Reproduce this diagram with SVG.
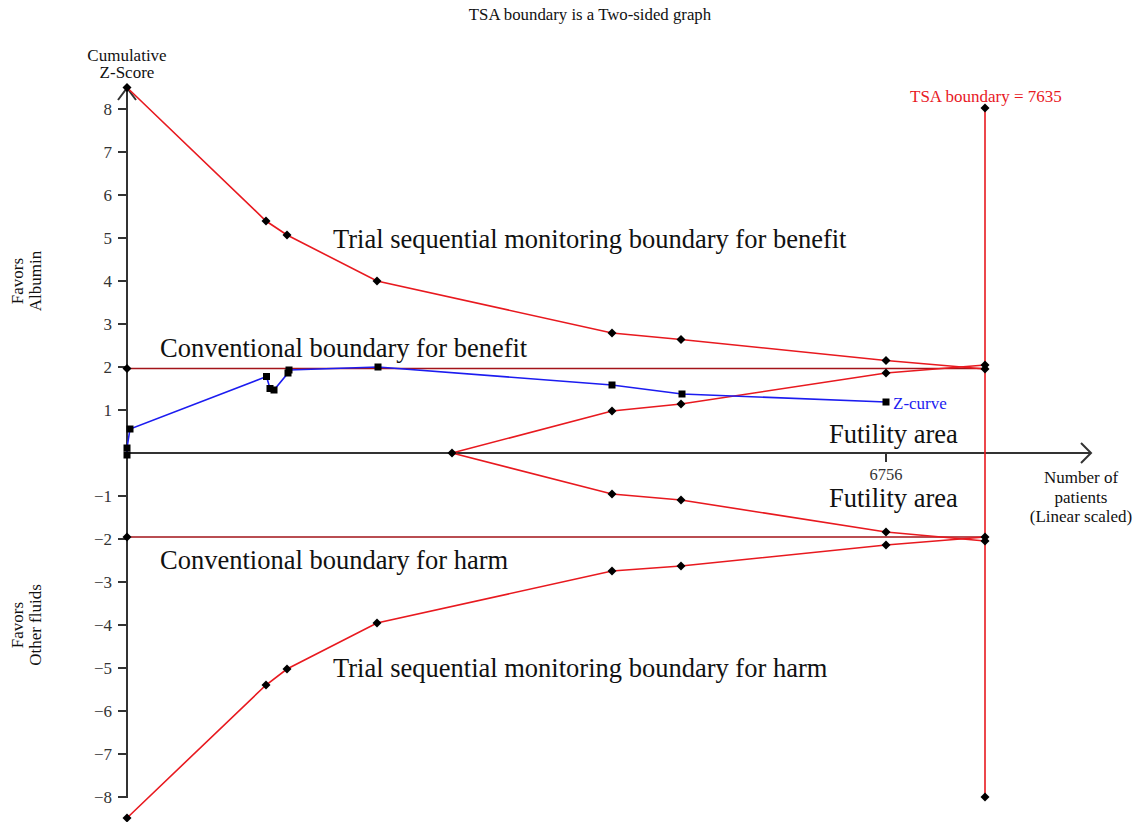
<svg xmlns="http://www.w3.org/2000/svg" width="1135" height="822" viewBox="0 0 1135 822">
<style>
text{font-family:"Liberation Serif","Times New Roman",serif;fill:#111}
.big{font-size:26.5px}
.tick{font-size:17px;text-anchor:end;fill:#333}
.lab{font-size:17px}
.red{fill:none;stroke:#e8191f;stroke-width:1.6}
.conv{fill:none;stroke:#a3141a;stroke-width:1.6}
.blue{fill:none;stroke:#1c1cf0;stroke-width:1.6}
.axis{fill:none;stroke:#333;stroke-width:2}
</style>
<defs>
<path id="dm" d="M0,-4.5L4.5,0L0,4.5L-4.5,0Z" fill="#000"/>
<rect id="sq" x="-3.5" y="-3.5" width="7" height="7" fill="#000"/>
</defs>
<rect width="1135" height="822" fill="#fff"/>
<text x="590" y="20" text-anchor="middle" style="font-size:16.8px">TSA boundary is a Two-sided graph</text>

<g id="axes">
<path class="axis" d="M127,88V798M118,100L127,88L136,100"/>
<path class="axis" d="M127,453H1091M1081,443L1091,453L1081,463"/>
<path class="axis" d="M118,109H127M118,152H127M118,195H127M118,238H127M118,281H127M118,324H127M118,367H127M118,410H127M118,496H127M118,539H127M118,582H127M118,625H127M118,668H127M118,711H127M118,754H127M118,797H127M886,453V462"/>
<text class="tick" x="112" y="115">8</text>
<text class="tick" x="112" y="158">7</text>
<text class="tick" x="112" y="201">6</text>
<text class="tick" x="112" y="244">5</text>
<text class="tick" x="112" y="287">4</text>
<text class="tick" x="112" y="330">3</text>
<text class="tick" x="112" y="373">2</text>
<text class="tick" x="112" y="416">1</text>
<text class="tick" x="112" y="502">−1</text>
<text class="tick" x="112" y="545">−2</text>
<text class="tick" x="112" y="588">−3</text>
<text class="tick" x="112" y="631">−4</text>
<text class="tick" x="112" y="674">−5</text>
<text class="tick" x="112" y="717">−6</text>
<text class="tick" x="112" y="760">−7</text>
<text class="tick" x="112" y="803">−8</text>
<text x="886" y="480" text-anchor="middle" style="font-size:16.5px;fill:#333">6756</text>
<text x="127" y="61" text-anchor="middle" class="lab">Cumulative</text>
<text x="127" y="78" text-anchor="middle" class="lab">Z-Score</text>
<text class="lab" text-anchor="middle" transform="translate(23,281) rotate(-90)">Favors</text>
<text class="lab" text-anchor="middle" transform="translate(41,281) rotate(-90)">Albumin</text>
<text class="lab" text-anchor="middle" transform="translate(23,625) rotate(-90)">Favors</text>
<text class="lab" text-anchor="middle" transform="translate(41,625) rotate(-90)">Other fluids</text>
<text x="1081" y="483" text-anchor="middle" class="lab">Number of</text>
<text x="1081" y="503" text-anchor="middle" class="lab">patients</text>
<text x="1081" y="522" text-anchor="middle" class="lab">(Linear scaled)</text>
</g>

<g id="connectors">
<path class="conv" d="M127,368.5H985M127,537H985"/>
<path class="red" d="M985,108V797"/>
<path class="red" d="M127,87.5L266,221L287,235L377,281L612,333L681,339.5L886,360.5L985,369"/>
<path class="red" d="M127,818L266,685L287,669L377,623L612,571L681,566L886,545L985,537"/>
<path class="red" d="M452,453L612,411L681,404L886,373L985,365"/>
<path class="red" d="M452,453L612,494L681,500L886,532L985,541"/>
<path class="blue" d="M127,455L127,448L130,429L266.5,376.5L270,388.5L274,390L288,373L289,370L378,367L612,385L682,394L886,402"/>
</g>

<g id="benefit-boundary">
<use href="#dm" x="127" y="87.5"/><use href="#dm" x="266" y="221"/><use href="#dm" x="287" y="235"/><use href="#dm" x="377" y="281"/><use href="#dm" x="612" y="333"/><use href="#dm" x="681" y="339.5"/><use href="#dm" x="886" y="360.5"/><use href="#dm" x="985" y="369"/>
</g>
<g id="harm-boundary">
<use href="#dm" x="127" y="818"/><use href="#dm" x="266" y="685"/><use href="#dm" x="287" y="669"/><use href="#dm" x="377" y="623"/><use href="#dm" x="612" y="571"/><use href="#dm" x="681" y="566"/><use href="#dm" x="886" y="545"/><use href="#dm" x="985" y="537"/>
</g>
<g id="futility">
<use href="#dm" x="452" y="453"/><use href="#dm" x="612" y="411"/><use href="#dm" x="681" y="404"/><use href="#dm" x="886" y="373"/><use href="#dm" x="985" y="365"/>
<use href="#dm" x="612" y="494"/><use href="#dm" x="681" y="500"/><use href="#dm" x="886" y="532"/><use href="#dm" x="985" y="541"/>
</g>
<g id="conventional">
<use href="#dm" x="127" y="368.5"/><use href="#dm" x="127" y="537"/>
</g>
<g id="tsa-boundary">
<use href="#dm" x="985" y="108"/><use href="#dm" x="985" y="797"/>
<text x="910" y="102" style="font-size:17px;fill:#e8191f">TSA boundary = 7635</text>
</g>
<g id="z-curve">
<use href="#sq" x="127" y="455"/><use href="#sq" x="127" y="448"/><use href="#sq" x="130" y="429"/><use href="#sq" x="266.5" y="376.5"/><use href="#sq" x="270" y="388.5"/><use href="#sq" x="274" y="390"/><use href="#sq" x="288" y="373"/><use href="#sq" x="289" y="370"/><use href="#sq" x="378" y="367"/><use href="#sq" x="612" y="385"/><use href="#sq" x="682" y="394"/><use href="#sq" x="886" y="402"/>
<text x="893" y="409" style="font-size:17px;fill:#1c1cf0">Z-curve</text>
</g>
<g id="labels">
<text class="big" x="333" y="248">Trial sequential monitoring boundary for benefit</text>
<text class="big" x="160" y="357">Conventional boundary for benefit</text>
<text class="big" x="829" y="443">Futility area</text>
<text class="big" x="829" y="507">Futility area</text>
<text class="big" x="160" y="569">Conventional boundary for harm</text>
<text class="big" x="333" y="677">Trial sequential monitoring boundary for harm</text>
</g>
</svg>
